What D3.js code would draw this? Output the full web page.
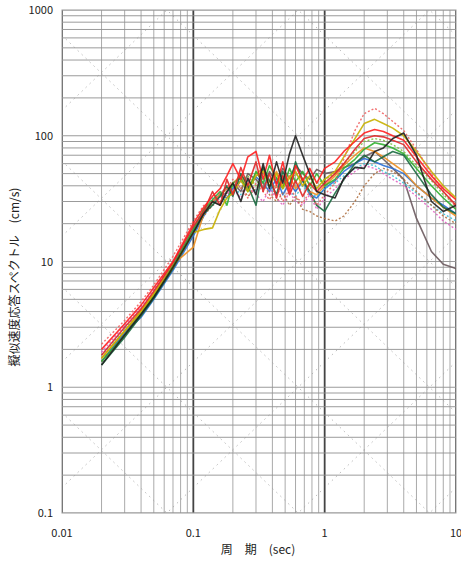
<!DOCTYPE html>
<html>
<head>
<meta charset="utf-8">
<script src="https://cdn.jsdelivr.net/npm/d3@7"></script>
<style>
  body { margin: 0; background: #fff; }
  svg { display: block; }
  .tick-label { font-family: 'Noto Sans CJK JP', 'DejaVu Sans', sans-serif; font-size: 11px; fill: #222; }
  .title { font-family: 'Noto Sans CJK JP', sans-serif; font-size: 12px; fill: #222; }
</style>
</head>
<body>
<svg id="chart" width="461" height="562"></svg>
<script>
// 周期 (sec)
var periods = [0.02, 0.03, 0.04, 0.05, 0.07, 0.1, 0.12, 0.14, 0.16, 0.18, 0.2, 0.23, 0.26, 0.3, 0.34, 0.38,
  0.43, 0.48, 0.54, 0.6, 0.68, 0.77, 0.87, 1.0, 1.2, 1.4, 1.7, 2.0, 2.4, 2.8, 3.3, 4.0, 5.0, 6.5, 8.0, 10]

// 擬似速度応答スペクトル (cm/s)
var svBlack = [1.5, 2.6, 3.8, 5.2, 9, 17, 24, 30, 28, 36, 42, 30, 46, 34, 60, 38, 62, 42, 72, 100, 70, 50, 36, 34, 32, 46, 56, 55, 75, 80, 95, 105, 70, 30, 25, 28]
var svGray = [1.6, 2.7, 3.9, 5.4, 9.5, 18, 25, 30, 33, 35, 42, 36, 50, 45, 38, 52, 42, 55, 46, 58, 50, 45, 54, 50, 52, 56, 60, 68, 75, 65, 55, 45, 22, 12, 9.5, 8.8]
var svRed1 = [2.0, 3.2, 4.5, 6.2, 10, 20, 27, 33, 38, 48, 60, 45, 68, 75, 45, 70, 40, 62, 36, 58, 44, 55, 42, 55, 62, 75, 90, 105, 112, 108, 100, 92, 68, 48, 38, 31]
var svRed2 = [1.8, 3.0, 4.2, 5.8, 9.8, 19, 25, 36, 28, 45, 34, 56, 40, 62, 36, 50, 32, 48, 34, 44, 33, 42, 36, 42, 50, 60, 78, 95, 100, 98, 92, 85, 62, 45, 36, 28]
var svRedDot = [2.2, 3.4, 4.8, 6.5, 11, 21, 28, 30, 35, 38, 45, 38, 32, 42, 36, 31, 40, 30, 38, 33, 29, 36, 28, 34, 42, 65, 110, 150, 165, 150, 130, 110, 78, 50, 36, 27]
var svYellow = [1.7, 2.8, 4.0, 5.5, 9, 17, 18, 18.5, 26, 32, 35, 44, 36, 48, 52, 40, 50, 38, 46, 52, 40, 48, 38, 45, 52, 68, 95, 125, 135, 125, 115, 100, 75, 52, 40, 32]
var svGreen = [1.6, 2.6, 3.8, 5.3, 9.2, 18, 26, 31, 36, 28, 42, 46, 36, 52, 42, 58, 46, 38, 55, 43, 52, 40, 50, 40, 45, 55, 65, 78, 88, 85, 80, 72, 55, 40, 32, 26]
var svDarkGreen = [1.5, 2.5, 3.7, 5.1, 8.8, 17, 24, 28, 33, 40, 33, 50, 40, 28, 56, 44, 34, 52, 40, 62, 44, 36, 28, 25, 35, 45, 60, 70, 62, 68, 75, 70, 50, 34, 27, 24]
var svBlue = [1.6, 2.7, 3.6, 5.0, 8.5, 16, 23, 30, 34, 32, 38, 44, 38, 47, 42, 36, 46, 34, 42, 36, 44, 34, 32, 38, 44, 52, 60, 66, 62, 58, 55, 50, 40, 32, 28, 24]
var svCyanDot = [1.8, 2.9, 4.1, 5.6, 9.5, 19, 26, 32, 35, 38, 40, 34, 44, 36, 46, 38, 34, 43, 36, 33, 40, 35, 33, 38, 42, 48, 55, 60, 58, 52, 48, 42, 35, 28, 24, 21]
var svOrange = [1.7, 2.8, 4.1, 5.6, 9.5, 13, 24, 30, 34, 38, 42, 48, 38, 50, 55, 43, 52, 40, 48, 38, 46, 36, 34, 40, 48, 58, 70, 80, 75, 68, 60, 52, 40, 32, 27, 23]
var svMagentaDot = [1.9, 3.1, 4.4, 6.0, 10, 19, 24, 28, 32, 35, 38, 32, 40, 34, 30, 38, 32, 28, 36, 30, 28, 34, 26, 32, 38, 45, 52, 58, 55, 50, 45, 40, 33, 26, 21, 18]
var svBrownDot = [1.6, 2.6, 3.7, 5.2, 8.8, 17, 23, 28, 30, 34, 36, 40, 33, 38, 42, 34, 30, 35, 28, 33, 26, 25, 23, 22, 21, 23, 30, 40, 50, 55, 52, 45, 36, 28, 23, 20]
var svLimeDot = [1.7, 2.8, 4.0, 5.4, 9.0, 17, 24, 29, 33, 36, 40, 44, 48, 40, 50, 44, 38, 48, 40, 50, 44, 38, 42, 45, 50, 60, 75, 90, 95, 92, 85, 75, 58, 44, 34, 28]

var seriesList = [svGray, svBlue, svCyanDot, svMagentaDot, svBrownDot, svLimeDot, svOrange, svGreen,
  svDarkGreen, svYellow, svRedDot, svRed2, svRed1, svBlack]
var seriesColors = ['#6b5a5e', '#2a6fd6', '#3cc0d8', '#e060c0', '#b07040', '#7cc040', '#f09020', '#30b030',
  '#1a6a40', '#c8b000', '#f06060', '#e02828', '#ff2020', '#202020']
var seriesDashed = [false, false, true, true, true, true, false, false, false, false, true, false, false, false]

// 目盛りラベル
var xTicks = [0.01, 0.1, 1, 10]
var xTickLabels = ['0.01', '0.1', '1', '10']
var yTicks = [0.1, 1, 10, 100, 1000]
var yTickLabels = ['0.1', '1', '10', '100', '1000']

var margin = { left: 62, top: 10, right: 456, bottom: 513 }

var svg = d3.select('#chart')
var x = d3.scaleLog().domain([0.01, 10]).range([margin.left, margin.right])
var y = d3.scaleLog().domain([0.1, 1000]).range([margin.bottom, margin.top])

svg.append('defs').append('clipPath').attr('id', 'plotClip')
  .append('rect')
  .attr('x', margin.left).attr('y', margin.top)
  .attr('width', margin.right - margin.left).attr('height', margin.bottom - margin.top)

var gridG = svg.append('g').attr('clip-path', 'url(#plotClip)')

// 斜め線 (変位・加速度) - 10倍ごと
var diagVals = []
for (var e = -4; e <= 6; e++) diagVals.push(Math.pow(10, e))
diagVals.forEach(function (d) {
  // 変位一定線 Sv = 2πSd/T
  gridG.append('line')
    .attr('x1', x(0.001)).attr('y1', y(2 * Math.PI * d / 0.001))
    .attr('x2', x(100)).attr('y2', y(2 * Math.PI * d / 100))
    .attr('stroke', '#aaa').attr('stroke-width', 0.8)
    .attr('stroke-dasharray', '1.5,4')
  // 加速度一定線 Sv = Sa T / 2π
  gridG.append('line')
    .attr('x1', x(0.001)).attr('y1', y(d * 0.001 / (2 * Math.PI)))
    .attr('x2', x(100)).attr('y2', y(d * 100 / (2 * Math.PI)))
    .attr('stroke', '#aaa').attr('stroke-width', 0.8)
    .attr('stroke-dasharray', '1.5,4')
})

// 縦線
var xGrid = []
for (var ex = -2; ex <= 0; ex++) {
  for (var k = 1; k <= 9; k++) xGrid.push(k * Math.pow(10, ex))
}
xGrid.push(10)
xGrid.forEach(function (t) {
  var major = xTicks.indexOf(+t.toPrecision(6)) >= 0
  gridG.append('line')
    .attr('x1', x(t)).attr('x2', x(t))
    .attr('y1', margin.top).attr('y2', margin.bottom)
    .attr('stroke', major ? '#444' : '#a0a0a0')
    .attr('stroke-width', major ? 1.8 : 0.9)
})

// 横線
var yGrid = []
for (var ey = -1; ey <= 2; ey++) {
  for (var k2 = 1; k2 <= 9; k2++) yGrid.push(k2 * Math.pow(10, ey))
}
yGrid.push(1000)
yGrid.forEach(function (v) {
  gridG.append('line')
    .attr('x1', margin.left).attr('x2', margin.right)
    .attr('y1', y(v)).attr('y2', y(v))
    .attr('stroke', '#909090')
    .attr('stroke-width', 0.9)
})

// 枠線
svg.append('rect')
  .attr('x', margin.left).attr('y', margin.top)
  .attr('width', margin.right - margin.left).attr('height', margin.bottom - margin.top)
  .attr('fill', 'none').attr('stroke', '#999').attr('stroke-width', 1)

// スペクトル線
var line = d3.line()
  .x(function (d, i) { return x(periods[i]) })
  .y(function (d) { return y(d) })

var curveG = svg.append('g').attr('clip-path', 'url(#plotClip)')
seriesList.forEach(function (data, i) {
  curveG.append('path')
    .datum(data)
    .attr('d', line)
    .attr('fill', 'none')
    .attr('stroke', seriesColors[i])
    .attr('stroke-width', seriesDashed[i] ? 1.4 : 1.6)
    .attr('stroke-dasharray', seriesDashed[i] ? '2,2' : null)
    .attr('stroke-linejoin', 'round')
    .attr('opacity', 0.9)
})

// 目盛りラベル
svg.selectAll('.xlab')
  .data(xTicks)
  .enter()
  .append('text')
  .attr('class', 'tick-label')
  .attr('x', function (d) { return x(d) })
  .attr('y', 537)
  .attr('text-anchor', 'middle')
  .text(function (d, i) { return xTickLabels[i] })

svg.selectAll('.ylab')
  .data(yTicks)
  .enter()
  .append('text')
  .attr('class', 'tick-label')
  .attr('x', 53)
  .attr('y', function (d) { return y(d) + 4 })
  .attr('text-anchor', 'end')
  .text(function (d, i) { return yTickLabels[i] })

// 軸タイトル
svg.append('text')
  .attr('class', 'title')
  .attr('x', 258).attr('y', 554)
  .attr('text-anchor', 'middle')
  .text('周　期　(sec)')

svg.append('text')
  .attr('class', 'title')
  .attr('transform', 'translate(19,277) rotate(-90)')
  .attr('text-anchor', 'middle')
  .text('擬似速度応答スペクトル　(cm/s)')
</script>
</body>
</html>
